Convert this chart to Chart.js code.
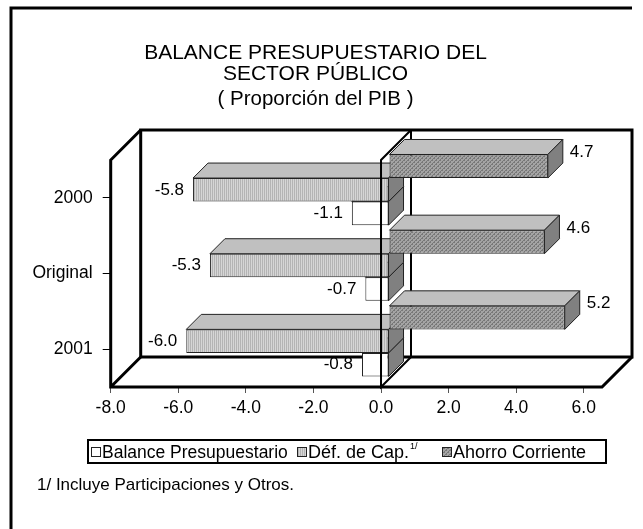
<!DOCTYPE html>
<html>
<head>
<meta charset="utf-8">
<script src="https://cdn.jsdelivr.net/npm/chart.js@4.4.0/dist/chart.umd.min.js"></script>
<style>
  html, body { margin: 0; padding: 0; background: #fff; }
</style>
</head>
<body>
<canvas id="chart" width="643" height="529"></canvas>
<script>
// data
const categories = ['2000', 'Original', '2001'];
const balance = [-1.1, -0.7, -0.8];
const deficitCap = [-5.8, -5.3, -6.0];
const ahorro = [4.7, 4.6, 5.2];
const xTicks = [-8, -6, -4, -2, 0, 2, 4, 6];
const seriesNames = ['Balance Presupuestario', 'Déf. de Cap.', 'Ahorro Corriente'];

const FONT = "'Liberation Sans', Arial, sans-serif";
const DEPTH = 30;      // depth of the 3d box
const BAR_OFF = 8;     // bars start this far behind the front plane
const BAR_DEPTH = 15;  // depth of each bar

function makePattern(base, line, kind) {
    const c = document.createElement('canvas');
    c.width = 4; c.height = 4;
    const g = c.getContext('2d');
    g.fillStyle = base;
    g.fillRect(0, 0, 4, 4);
    g.fillStyle = line;
    if (kind === 'v') {
        g.fillRect(0, 0, 1, 4);
        g.fillRect(2, 0, 1, 4);
    } else {
        for (let i = 0; i < 4; i++) g.fillRect(i, 3 - i, 1, 1);
        g.fillRect(0, 0, 1, 1);
        g.fillRect(2, 2, 1, 1);
    }
    return g.createPattern(c, 'repeat');
}

const ahorroFill = makePattern('#a4a4a4', '#787878', 'd');
const defFill = makePattern('#d6d6d6', '#b4b4b4', 'v');
const fills = { 0: ahorroFill, 1: defFill, 2: '#ffffff' };

function barRect(el) {
    const p = el.getProps(['x', 'y', 'base', 'height'], true);
    return {
        l: Math.min(p.x, p.base) + BAR_OFF,
        r: Math.max(p.x, p.base) + BAR_OFF,
        t: p.y - p.height / 2 - BAR_OFF,
        b: p.y + p.height / 2 - BAR_OFF,
        cy: p.y - BAR_OFF
    };
}

function poly(ctx, pts, fill) {
    ctx.beginPath();
    ctx.moveTo(pts[0][0], pts[0][1]);
    for (let i = 1; i < pts.length; i++) ctx.lineTo(pts[i][0], pts[i][1]);
    ctx.closePath();
    ctx.fillStyle = fill;
    ctx.fill();
    ctx.stroke();
}

const box3d = {
    id: 'box3d',
    beforeDatasetsDraw(chart) {
        const ctx = chart.ctx;
        const { left, right, top, bottom } = chart.chartArea;
        const x0 = chart.scales.x.getPixelForValue(0);
        ctx.save();
        ctx.strokeStyle = '#000';
        ctx.lineWidth = 3;
        ctx.lineJoin = 'miter';
        // back wall
        ctx.strokeRect(left + DEPTH, top - DEPTH, right - left, bottom - top);
        // left wall and floor
        ctx.beginPath();
        ctx.moveTo(left + DEPTH, top - DEPTH);
        ctx.lineTo(left, top);
        ctx.lineTo(left, bottom);
        ctx.lineTo(right, bottom);
        ctx.lineTo(right + DEPTH, bottom - DEPTH);
        ctx.moveTo(left, bottom);
        ctx.lineTo(left + DEPTH, bottom - DEPTH);
        ctx.stroke();
        // zero plane, back edge
        ctx.lineWidth = 2;
        ctx.beginPath();
        ctx.moveTo(x0 + DEPTH, top - DEPTH);
        ctx.lineTo(x0 + DEPTH, bottom - DEPTH);
        ctx.stroke();

        // top and end faces, lowest bars first
        ctx.lineWidth = 1;
        ctx.strokeStyle = '#222';
        for (let i = categories.length - 1; i >= 0; i--) {
            for (let d = chart.data.datasets.length - 1; d >= 0; d--) {
                const r = barRect(chart.getDatasetMeta(d).data[i]);
                const k = BAR_DEPTH;
                poly(ctx, [[r.l, r.t], [r.r, r.t], [r.r + k, r.t - k], [r.l + k, r.t - k]], '#c0c0c0');
                poly(ctx, [[r.r, r.t], [r.r + k, r.t - k], [r.r + k, r.b - k], [r.r, r.b]], '#808080');
            }
        }
        ctx.restore();
        // front faces are drawn by chart.js, pushed back a little
        ctx.save();
        ctx.translate(BAR_OFF, -BAR_OFF);
    },
    afterDatasetsDraw(chart) {
        const ctx = chart.ctx;
        ctx.restore();
        const { top, bottom } = chart.chartArea;
        const x0 = chart.scales.x.getPixelForValue(0);
        ctx.save();
        ctx.strokeStyle = '#000';
        ctx.lineWidth = 2;
        ctx.beginPath();
        ctx.moveTo(x0 + DEPTH, top - DEPTH);
        ctx.lineTo(x0, top);
        ctx.lineTo(x0, bottom);
        ctx.lineTo(x0 + DEPTH, bottom - DEPTH);
        ctx.stroke();

        // value labels
        ctx.fillStyle = '#000';
        ctx.font = '17px ' + FONT;
        ctx.textBaseline = 'middle';
        chart.data.datasets.forEach((ds, d) => {
            chart.getDatasetMeta(d).data.forEach((el, i) => {
                const r = barRect(el);
                const v = ds.data[i];
                if (v >= 0) {
                    ctx.textAlign = 'left';
                    ctx.fillText(v.toFixed(1), r.r + BAR_DEPTH + 7, r.cy - BAR_DEPTH + 1);
                } else {
                    ctx.textAlign = 'right';
                    ctx.fillText(v.toFixed(1), r.l - 9, r.cy);
                }
            });
        });
        ctx.restore();
    },
    afterDraw(chart) {
        const ctx = chart.ctx;
        ctx.save();
        // outer frame
        ctx.strokeStyle = '#000';
        ctx.lineWidth = 3;
        ctx.beginPath();
        ctx.moveTo(11, 529);
        ctx.lineTo(11, 8);
        ctx.lineTo(632, 8);
        ctx.stroke();

        // legend
        ctx.lineWidth = 2;
        ctx.strokeRect(88, 440, 518, 23);
        const ly = 452;
        const items = [
            { x: 91, fill: fills[2], text: seriesNames[0], size: 17.5 },
            { x: 297, fill: fills[1], text: seriesNames[1], size: 18, sup: '1/' },
            { x: 442, fill: fills[0], text: seriesNames[2], size: 18 }
        ];
        ctx.textBaseline = 'middle';
        ctx.textAlign = 'left';
        ctx.lineWidth = 1;
        ctx.strokeStyle = '#222';
        items.forEach(it => {
            ctx.fillStyle = it.fill;
            ctx.fillRect(it.x, ly - 5, 10, 10);
            ctx.strokeRect(it.x + 0.5, ly - 4.5, 9, 9);
            ctx.fillStyle = '#000';
            ctx.font = it.size + 'px ' + FONT;
            ctx.fillText(it.text, it.x + 11, ly + 1);
            if (it.sup) {
                const w = ctx.measureText(it.text).width;
                ctx.font = '9px ' + FONT;
                ctx.fillText(it.sup, it.x + 11 + w + 1, ly - 5);
            }
        });

        // footnote
        ctx.font = '17px ' + FONT;
        ctx.fillStyle = '#000';
        ctx.fillText('1/ Incluye Participaciones y Otros.', 37, 485);
        ctx.restore();
    }
};

new Chart(document.getElementById('chart'), {
    type: 'bar',
    data: {
        labels: categories,
        datasets: [
            { label: seriesNames[2], data: ahorro, backgroundColor: fills[0] },
            { label: seriesNames[1], data: deficitCap, backgroundColor: fills[1] },
            { label: seriesNames[0], data: balance, backgroundColor: fills[2] }
        ]
    },
    options: {
        indexAxis: 'y',
        responsive: false,
        animation: false,
        devicePixelRatio: 1,
        datasets: {
            bar: {
                categoryPercentage: 0.934,
                barPercentage: 1.0,
                borderWidth: 1,
                borderColor: '#222',
                borderSkipped: false,
                clip: false
            }
        },
        layout: { padding: { left: 29, right: 41, top: 0, bottom: 112 } },
        plugins: {
            legend: { display: false },
            tooltip: { enabled: false },
            title: {
                display: true,
                text: ['BALANCE PRESUPUESTARIO DEL', 'SECTOR PÚBLICO'],
                color: '#000',
                font: { family: FONT, size: 21, weight: 'normal', lineHeight: 1.0 },
                padding: { top: 42.5, bottom: 0 }
            },
            subtitle: {
                display: true,
                text: '( Proporción del PIB )',
                color: '#000',
                font: { family: FONT, size: 20.5, weight: 'normal', lineHeight: 1.0 },
                padding: { top: 4.5, bottom: 50.5 }
            }
        },
        scales: {
            x: {
                type: 'linear',
                min: -8,
                max: 6.54,
                afterBuildTicks: s => { s.ticks = xTicks.map(v => ({ value: v })); },
                afterFit: s => { s.height = 30; },
                grid: { drawOnChartArea: false, drawTicks: true, tickLength: 6, color: '#555' },
                border: { display: false },
                ticks: {
                    color: '#000',
                    font: { family: FONT, size: 17.5 },
                    padding: 5,
                    maxRotation: 0,
                    callback: v => (Math.abs(v) < 1e-9 ? 0 : v).toFixed(1)
                }
            },
            y: {
                afterFit: s => { s.width = 81.7; },
                grid: { offset: false, drawOnChartArea: false, tickLength: 8, color: '#000' },
                border: { display: false },
                ticks: { color: '#000', font: { family: FONT, size: 17.5 }, padding: 10 }
            }
        }
    },
    plugins: [box3d]
});
</script>
</body>
</html>
